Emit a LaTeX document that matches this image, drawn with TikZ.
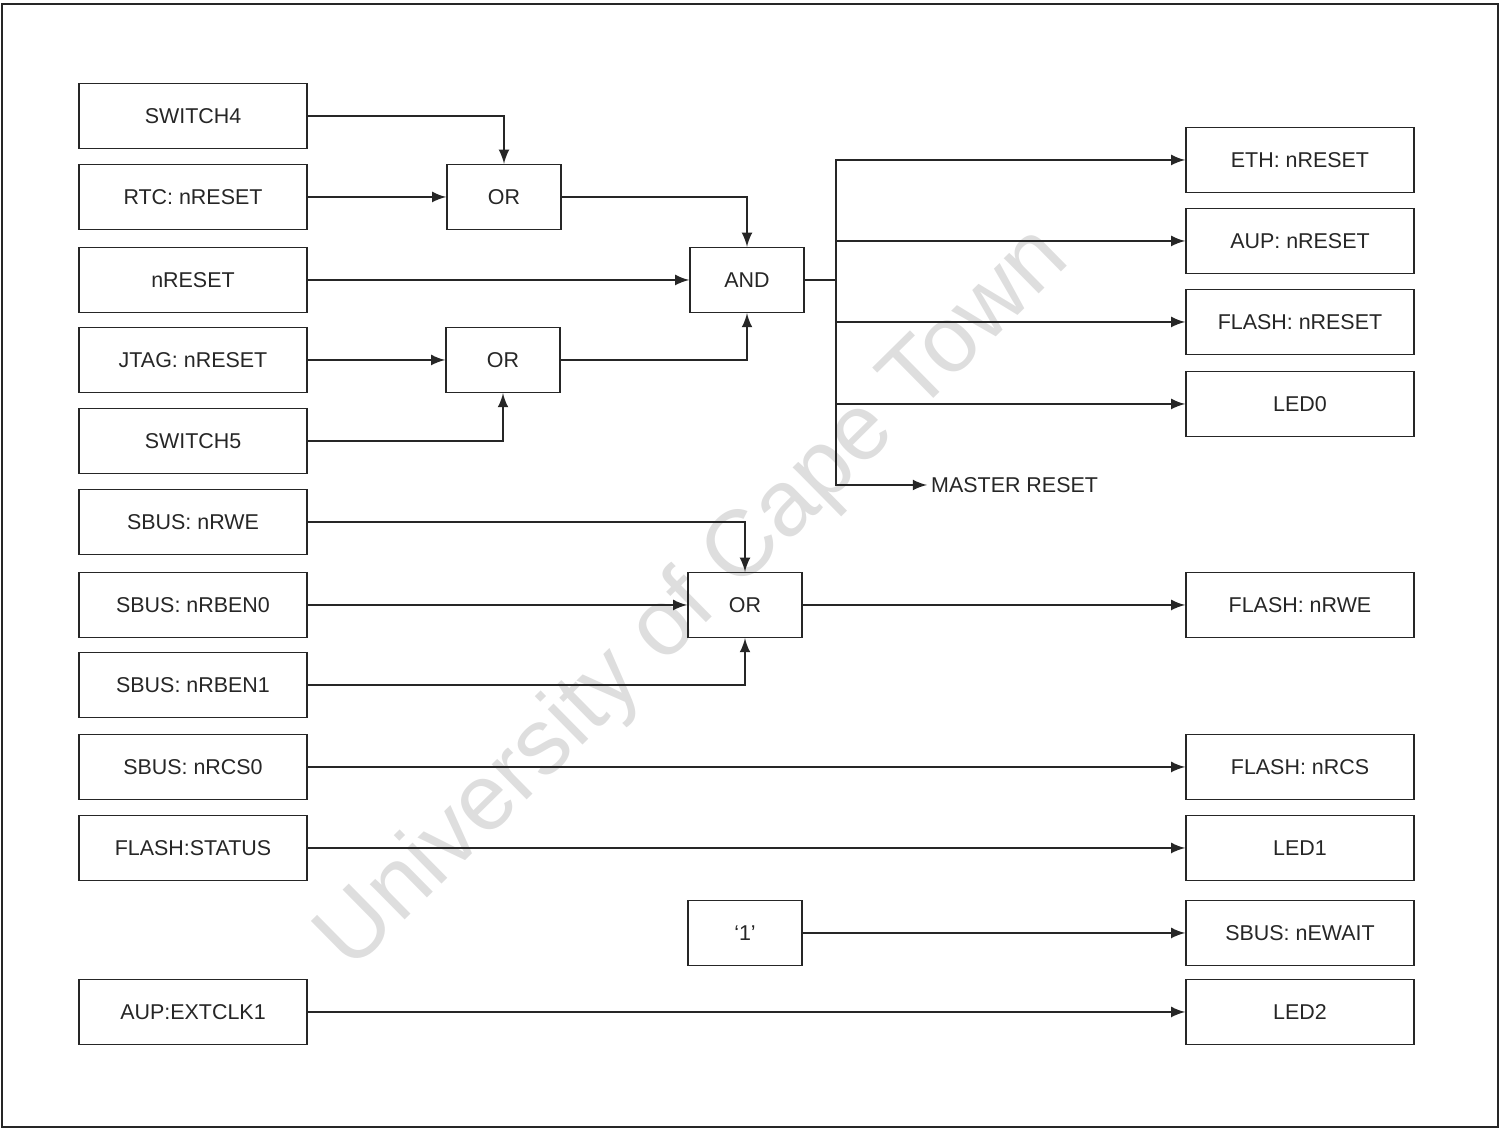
\documentclass[tikz,border=0pt]{standalone}
\usepackage{fontspec}
\setmainfont{Liberation Sans}

\begin{document}
\begin{tikzpicture}[>=latex, line width=.4pt, color=black!85,
    blk/.style={draw, minimum width=2.28cm, minimum height=.65cm, inner sep=0pt,
        font=\fontsize{6.1}{7}\selectfont},
    gate/.style={blk, minimum width=1.14cm},
    tag/.style={inner sep=1pt, font=\fontsize{6.1}{7}\selectfont}]
    \useasboundingbox (0,0) rectangle (15.03,-11.30);
    % watermark
    \node[rotate=44.6, text=black!13, font=\fontsize{26.7}{30}\selectfont] (wm) at (6.95,-6.0) {University of Cape Town};
    \draw[line width=.6pt] (.02,-.04) rectangle (14.98,-11.27);
    % inputs
    \node[blk] (sw4)  at (1.93,-1.16)  {SWITCH4};
    \node[blk] (rtc)  at (1.93,-1.97)  {RTC: nRESET};
    \node[blk] (nrst) at (1.93,-2.80)  {nRESET};
    \node[blk] (jtag) at (1.93,-3.60)  {JTAG: nRESET};
    \node[blk] (sw5)  at (1.93,-4.41)  {SWITCH5};
    \node[blk] (rwe)  at (1.93,-5.22)  {SBUS: nRWE};
    \node[blk] (ben0) at (1.93,-6.05)  {SBUS: nRBEN0};
    \node[blk] (ben1) at (1.93,-6.85)  {SBUS: nRBEN1};
    \node[blk] (rcs0) at (1.93,-7.67)  {SBUS: nRCS0};
    \node[blk] (stat) at (1.93,-8.48)  {FLASH:STATUS};
    \node[blk] (clk)  at (1.93,-10.12) {AUP:EXTCLK1};
    % logic
    \node[gate] (or1) at (5.04,-1.97) {OR};
    \node[gate] (or2) at (5.03,-3.60) {OR};
    \node[gate] (and) at (7.47,-2.80) {AND};
    \node[gate] (or3) at (7.45,-6.05) {OR};
    \node[gate] (one) at (7.45,-9.33) {`1'};
    % outputs
    \node[blk] (eth)   at (13.0,-1.60)  {ETH: nRESET};
    \node[blk] (aup)   at (13.0,-2.41)  {AUP: nRESET};
    \node[blk] (frst)  at (13.0,-3.22)  {FLASH: nRESET};
    \node[blk] (led0)  at (13.0,-4.04)  {LED0};
    \node[blk] (frwe)  at (13.0,-6.05)  {FLASH: nRWE};
    \node[blk] (frcs)  at (13.0,-7.67)  {FLASH: nRCS};
    \node[blk] (led1)  at (13.0,-8.48)  {LED1};
    \node[blk] (wait)  at (13.0,-9.33)  {SBUS: nEWAIT};
    \node[blk] (led2)  at (13.0,-10.12) {LED2};
    \node[tag, anchor=west] (mr) at (9.27,-4.85) {MASTER RESET};
    \coordinate (bus) at (8.36,-2.80);
    % wiring
    \draw[->] (sw4) -| (or1);
    \draw[->] (rtc) -- (or1);
    \draw[->] (jtag) -- (or2);
    \draw[->] (sw5) -| (or2);
    \draw[->] (or1) -| (and);
    \draw[->] (or2) -| (and);
    \draw[->] (nrst) -- (and);
    \draw (and) -- (bus);
    \foreach \dst in {eth,aup,frst,led0,mr}
        \draw[->] (bus) |- (\dst);
    \draw[->] (rwe) -| (or3);
    \draw[->] (ben0) -- (or3);
    \draw[->] (ben1) -| (or3);
    \draw[->] (or3) -- (frwe);
    \draw[->] (rcs0) -- (frcs);
    \draw[->] (stat) -- (led1);
    \draw[->] (one) -- (wait);
    \draw[->] (clk) -- (led2);
\end{tikzpicture}
\end{document}
